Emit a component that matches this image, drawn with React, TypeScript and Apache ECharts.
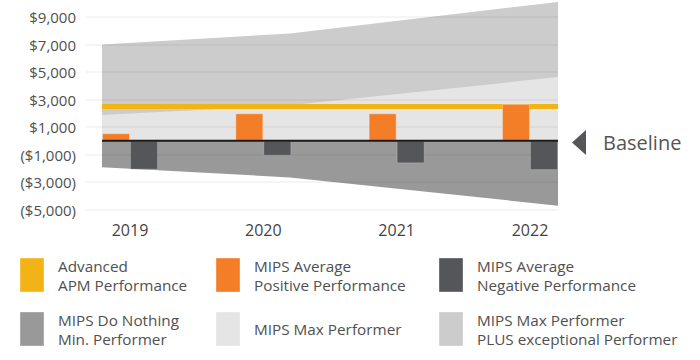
import React, { useEffect, useRef } from "react";
import * as echarts from "echarts";

// ---- data ----
const years = ["2019", "2020", "2021", "2022"];
const positivePerf = [550, 2000, 2000, 2670];
const negativePerf = [-2100, -1090, -1640, -2130];
const apmLevel = 2500;
const bandX = [2018.79, 2020.2, 2022.21];
const plusTop = [7000, 7800, 10100];
const maxPerformerTop = [1870, 2580, 4630];
const doNothingBottom = [-1930, -2670, -4720];
const yTickLabels = ["($5,000)", "($3,000)", "($1,000)", "$1,000", "$3,000", "$5,000", "$7,000", "$9,000"];

const C_YELLOW = "#F2B316";
const C_ORANGE = "#F47E28";
const C_DARK = "#54565A";
const C_DONOTHING = "#999999";
const C_MAX = "#E5E5E5";
const C_PLUS = "#CCCCCC";

const legendItems = [
  { name: "Advanced\nAPM Performance", color: C_YELLOW },
  { name: "MIPS Average\nPositive Performance", color: C_ORANGE },
  { name: "MIPS Average\nNegative Performance", color: C_DARK },
  { name: "MIPS Do Nothing\nMin. Performer", color: C_DONOTHING },
  { name: "MIPS Max Performer", color: C_MAX },
  { name: "MIPS Max Performer\nPLUS exceptional Performer", color: C_PLUS },
];

const FONT = "'Open Sans', 'Noto Sans', sans-serif";

export default function App() {
  const ref = useRef<HTMLDivElement>(null);
  useEffect(() => {
    if (!ref.current) return;
    const chart = echarts.init(ref.current, null, { renderer: "svg" });

    const colX = [20, 216, 439];
    const rowY = [258, 312];
    const legendGraphics: any[] = [];
    legendItems.forEach((it, i) => {
      const c = i % 3;
      const r = Math.floor(i / 3);
      legendGraphics.push({
        type: "rect",
        shape: { x: colX[c], y: rowY[r], width: 24, height: 34 },
        style: { fill: it.color, stroke: "rgba(255,255,255,0.35)", lineWidth: 1 },
      });
      legendGraphics.push({
        type: "text",
        x: colX[c] + 38,
        y: rowY[r] + 17,
        style: {
          text: it.name,
          fill: "#505050",
          fontSize: 15.3,
          fontFamily: FONT,
          lineHeight: 19,
          verticalAlign: "middle",
          align: "left",
        },
      });
    });

    const pt = (vals: number[]) => bandX.map((x, i) => [x, vals[i]]);

    const option: any = {
      animation: false,
      textStyle: { fontFamily: FONT },
      grid: [
        { left: 86, right: 142, top: 17, height: 192.5 },
        { left: 63.33, right: 103.33, top: 17, height: 192.5 },
      ],
      xAxis: [
        { gridIndex: 0, type: "value", show: false, min: 0, max: 1 },
        {
          gridIndex: 1,
          type: "category",
          data: years,
          axisLine: { show: false },
          axisTick: { show: false },
          axisLabel: { color: "#444444", fontSize: 16, margin: 12, fontFamily: FONT },
        },
        { gridIndex: 1, type: "value", show: false, min: 2018.5, max: 2022.5 },
      ],
      yAxis: [
        {
          gridIndex: 0,
          type: "category",
          data: yTickLabels,
          boundaryGap: false,
          z: 2,
          axisLine: { show: false },
          axisTick: { show: false },
          axisLabel: { color: "#505050", fontSize: 15, margin: 10, fontFamily: FONT },
          splitLine: { show: true, lineStyle: { color: "rgba(0,0,0,0.055)", width: 1.5 } },
        },
        { gridIndex: 1, type: "value", show: false, min: -5000, max: 9000 },
      ],
      series: [
        {
          name: "MIPS Max Performer PLUS exceptional Performer",
          type: "line",
          xAxisIndex: 2,
          yAxisIndex: 1,
          data: pt(plusTop),
          symbol: "none",
          clip: false,
          lineStyle: { width: 0 },
          areaStyle: { color: C_PLUS, opacity: 1 },
          z: 1,
        },
        {
          name: "MIPS Max Performer",
          type: "line",
          xAxisIndex: 2,
          yAxisIndex: 1,
          data: pt(maxPerformerTop),
          symbol: "none",
          lineStyle: { width: 0 },
          areaStyle: { color: C_MAX, opacity: 1 },
          z: 1,
        },
        {
          name: "MIPS Do Nothing Min. Performer",
          type: "line",
          xAxisIndex: 2,
          yAxisIndex: 1,
          data: pt(doNothingBottom),
          symbol: "none",
          lineStyle: { width: 0 },
          areaStyle: { color: C_DONOTHING, opacity: 1 },
          z: 1,
        },
        {
          name: "Advanced APM Performance",
          type: "line",
          xAxisIndex: 2,
          yAxisIndex: 1,
          data: pt(bandX.map(() => apmLevel)),
          symbol: "none",
          lineStyle: { width: 5, color: C_YELLOW },
          z: 3,
        },
        {
          name: "MIPS Average Positive Performance",
          type: "bar",
          xAxisIndex: 1,
          yAxisIndex: 1,
          data: positivePerf,
          barWidth: 28,
          barGap: "0%",
          itemStyle: { color: C_ORANGE, borderColor: "rgba(255,255,255,0.3)", borderWidth: 1 },
          z: 4,
        },
        {
          name: "MIPS Average Negative Performance",
          type: "bar",
          xAxisIndex: 1,
          yAxisIndex: 1,
          data: negativePerf,
          barWidth: 28,
          barGap: "0%",
          itemStyle: { color: C_DARK, borderColor: "rgba(255,255,255,0.2)", borderWidth: 1 },
          z: 4,
        },
        {
          name: "Baseline",
          type: "line",
          xAxisIndex: 2,
          yAxisIndex: 1,
          data: pt(bandX.map(() => 0)),
          symbol: "none",
          lineStyle: { width: 2, color: "#1a1a1a" },
          z: 5,
        },
      ],
      graphic: [
        {
          type: "polygon",
          shape: { points: [[572, 142.5], [586, 130], [586, 155]] },
          style: { fill: C_DARK },
        },
        {
          type: "text",
          x: 603,
          y: 142.5,
          style: {
            text: "Baseline",
            fill: "#555555",
            fontSize: 20,
            fontFamily: FONT,
            verticalAlign: "middle",
            align: "left",
          },
        },
        ...legendGraphics,
      ],
    };
    chart.setOption(option);
    return () => chart.dispose();
  }, []);
  return (
    <div
      ref={ref}
      style={{ position: "fixed", left: 0, top: 0, width: 700, height: 360, background: "#fff" }}
    />
  );
}
